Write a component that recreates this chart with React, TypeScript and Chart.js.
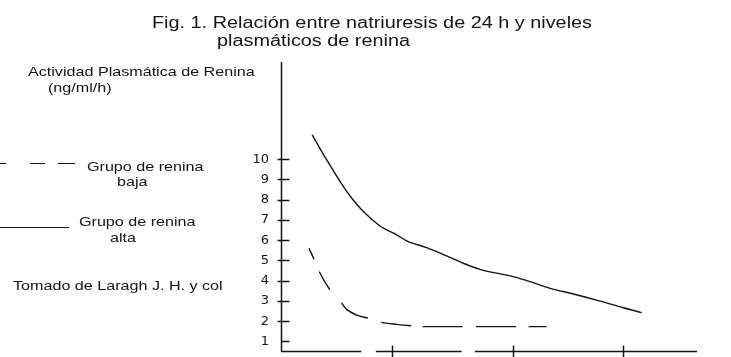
import React, { useEffect, useRef } from "react";
import { Chart, registerables } from "chart.js";

Chart.register(...registerables);

// ---- data ----
const yTickValues = [1, 2, 3, 4, 5, 6, 7, 8, 9, 10];
const xTickValues = [26.6, 55.7, 82.3];
const xAxisGaps = [
  [19.3, 22.8],
  [43.4, 46.6],
];

// Grupo de renina alta (solid)
const altaX = [7.5, 11.0, 15.0, 16.6, 19.8, 23.8, 27.8, 30.2, 35.0, 39.8, 43.8, 47.8, 55.8, 59.9, 64.7, 70.3, 76.7, 82.3, 86.7];
const altaY = [11.2, 9.96, 8.64, 8.18, 7.41, 6.7, 6.26, 5.97, 5.63, 5.22, 4.86, 4.56, 4.2, 3.95, 3.62, 3.34, 2.99, 2.66, 2.42];

// Grupo de renina baja (dashed)
const bajaX = [6.73, 7.93, 9.21, 11.78, 14.59, 15.79, 18.2, 20.99, 24.21, 27.81, 31.42, 34.21, 64.01];
const bajaY = [5.6, 5.06, 4.44, 3.54, 2.88, 2.58, 2.3, 2.14, 1.94, 1.84, 1.77, 1.73, 1.73];

const titleLines = ["Fig. 1. Relación entre natriuresis de 24 h y niveles", "plasmáticos de renina"];
const yTitleLines = ["Actividad Plasmática de Renina", "(ng/ml/h)"];
const legendBaja = ["Grupo de renina", "baja"];
const legendAlta = ["Grupo de renina", "alta"];
const sourceText = "Tomado de Laragh J. H. y col";

const INK = "#141414";
const STRETCH = 1.24;

function drawText(ctx: CanvasRenderingContext2D, s: string, x: number, y: number, size: number) {
  ctx.save();
  ctx.font = `${size}px "Liberation Sans", Arial, sans-serif`;
  ctx.fillStyle = INK;
  ctx.textBaseline = "alphabetic";
  ctx.textAlign = "left";
  ctx.translate(x, y);
  ctx.scale(STRETCH, 1);
  ctx.fillText(s, 0, 0);
  ctx.restore();
}

const decorPlugin = {
  id: "decor",
  afterDraw(chart: any) {
    const ctx: CanvasRenderingContext2D = chart.ctx;
    const xs = chart.scales.x;
    const ys = chart.scales.y;
    const area = chart.chartArea;
    const left = area.left + 0.5;
    const bottom = area.bottom;

    ctx.save();
    ctx.strokeStyle = INK;
    ctx.lineWidth = 1.5;
    ctx.setLineDash([]);

    // y axis line
    ctx.beginPath();
    ctx.moveTo(left, area.top);
    ctx.lineTo(left, bottom);
    ctx.stroke();

    // y ticks
    yTickValues.forEach((v, i) => {
      const py = Math.round(ys.getPixelForValue(v)) + 0.5;
      ctx.beginPath();
      ctx.moveTo(i === 0 ? left : left - 4, py);
      ctx.lineTo(left + 8, py);
      ctx.stroke();
    });

    // x axis line with breaks
    const pieces: number[][] = [];
    let start = xs.min;
    xAxisGaps.forEach(([a, b]) => {
      pieces.push([start, a]);
      start = b;
    });
    pieces.push([start, xs.max]);
    pieces.forEach(([a, b]) => {
      ctx.beginPath();
      ctx.moveTo(xs.getPixelForValue(a), bottom);
      ctx.lineTo(xs.getPixelForValue(b), bottom);
      ctx.stroke();
    });

    // x ticks
    xTickValues.forEach((v) => {
      const px = Math.round(xs.getPixelForValue(v)) + 0.5;
      ctx.beginPath();
      ctx.moveTo(px, bottom - 6);
      ctx.lineTo(px, bottom + 6);
      ctx.stroke();
    });

    // legend samples
    ctx.lineWidth = 1.2;
    ctx.setLineDash([6, 24, 15, 13, 17, 40]);
    ctx.beginPath();
    ctx.moveTo(0, 163.5);
    ctx.lineTo(75, 163.5);
    ctx.stroke();
    ctx.setLineDash([]);
    ctx.beginPath();
    ctx.moveTo(0, 227.5);
    ctx.lineTo(69, 227.5);
    ctx.stroke();
    ctx.restore();

    // texts
    drawText(ctx, titleLines[0], 152, 28, 16);
    drawText(ctx, titleLines[1], 217, 46, 16);
    drawText(ctx, yTitleLines[0], 28, 76, 13);
    drawText(ctx, yTitleLines[1], 48, 92, 13);
    drawText(ctx, legendBaja[0], 87, 170.5, 13);
    drawText(ctx, legendBaja[1], 117, 186, 13);
    drawText(ctx, legendAlta[0], 79, 226, 13);
    drawText(ctx, legendAlta[1], 110, 241.5, 13);
    drawText(ctx, sourceText, 13, 289.5, 13);
  },
};

export default function App() {
  const ref = useRef<HTMLCanvasElement | null>(null);

  useEffect(() => {
    if (!ref.current) return;
    const chart = new Chart(ref.current, {
      type: "line",
      data: {
        datasets: [
          {
            label: "Grupo de renina alta",
            data: altaX.map((x, i) => ({ x, y: altaY[i] })),
            borderColor: INK,
            borderWidth: 1.4,
            pointRadius: 0,
            fill: false,
            cubicInterpolationMode: "monotone",
          },
          {
            label: "Grupo de renina baja",
            data: bajaX.map((x, i) => ({ x, y: bajaY[i] })),
            borderColor: INK,
            borderWidth: 1.4,
            pointRadius: 0,
            fill: false,
            cubicInterpolationMode: "monotone",
            borderDash: [12, 13.5, 21, 17.7, 31.4, 14, 30, 11.6, 40, 13.3, 40, 12.7, 18, 30],
          },
        ],
      },
      options: {
        animation: false,
        responsive: false,
        devicePixelRatio: 1,
        layout: { padding: { left: 0, right: 34, top: 62, bottom: 5.5 } },
        plugins: {
          legend: { display: false },
          tooltip: { enabled: false },
          title: { display: false },
        },
        scales: {
          x: { type: "linear", min: 0, max: 100, display: false },
          y: {
            type: "linear",
            min: 0.5,
            max: 14.8,
            position: "left",
            grid: { display: false, drawTicks: false },
            border: { display: false },
            ticks: {
              padding: 12,
              color: INK,
              font: { family: "DejaVu Sans", size: 13 },
            },
            afterBuildTicks: (s: any) => {
              s.ticks = yTickValues.map((v) => ({ value: v }));
            },
            afterFit: (s: any) => {
              s.width = 281;
              s.paddingTop = 0;
              s.paddingBottom = 0;
            },
          },
        },
      },
      plugins: [decorPlugin],
    } as any);
    return () => chart.destroy();
  }, []);

  return (
    <div style={{ position: "fixed", left: 0, top: 0, width: 731, height: 357, background: "#fff" }}>
      <canvas ref={ref} width={731} height={357} style={{ display: "block", width: 731, height: 357 }} />
    </div>
  );
}
